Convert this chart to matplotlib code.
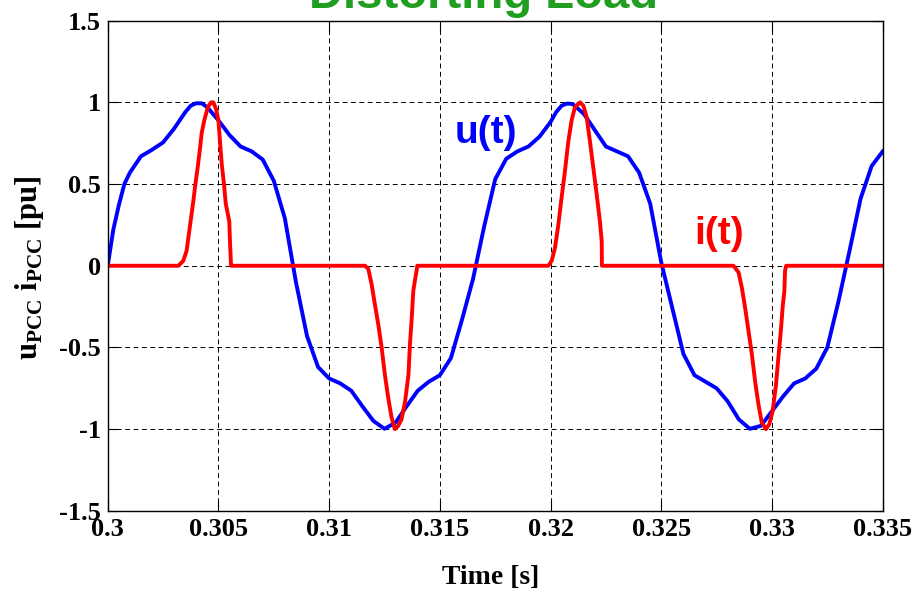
import matplotlib
matplotlib.use("Agg")
import matplotlib.pyplot as plt

plt.rcParams['mathtext.fontset'] = 'custom'
plt.rcParams['mathtext.rm'] = 'Liberation Serif'
plt.rcParams['mathtext.bf'] = 'Liberation Serif:bold'

# u(t) (mostly every 0.5 ms)
u_t = [0.3000, 0.30025, 0.3005, 0.30075, 0.3010, 0.3015, 0.3020, 0.3025, 0.3030, 0.3035,
       0.30375, 0.3040, 0.30425, 0.3045,
       0.3050, 0.3055, 0.3060, 0.3065, 0.3070, 0.3075, 0.3080, 0.3085, 0.3090, 0.3095,
       0.3100, 0.3105, 0.3110, 0.3115, 0.3120, 0.3125, 0.3130, 0.3135, 0.3140, 0.3145,
       0.3150, 0.3155, 0.3160, 0.3165, 0.3170, 0.3175, 0.3180, 0.3185, 0.3190, 0.3195,
       0.3200, 0.32025, 0.3205, 0.32075, 0.3210, 0.3215, 0.3220, 0.3225, 0.3230, 0.3235,
       0.3240, 0.3245,
       0.3250, 0.3255, 0.3260, 0.3265, 0.3270, 0.3275, 0.3280, 0.3285, 0.3290, 0.3295,
       0.3300, 0.3305, 0.3310, 0.3315, 0.3320, 0.3325, 0.3330, 0.3335, 0.3340, 0.3345,
       0.3350]
u_v = [0.00, 0.22, 0.37, 0.50, 0.57, 0.67, 0.71, 0.755, 0.84, 0.94,
       0.98, 0.995, 0.994, 0.97,
       0.89, 0.80, 0.73, 0.70, 0.65, 0.52, 0.29, -0.10, -0.43, -0.62,
       -0.69, -0.72, -0.765, -0.86, -0.95, -0.998, -0.96, -0.86, -0.765, -0.71,
       -0.67, -0.565, -0.33, -0.08, 0.24, 0.53, 0.655, 0.70, 0.73, 0.79,
       0.88, 0.94, 0.98, 0.993, 0.99, 0.93, 0.83, 0.73, 0.70, 0.67,
       0.57, 0.38,
       0.02, -0.26, -0.54, -0.67, -0.71, -0.75, -0.83, -0.94, -0.998, -0.98,
       -0.89, -0.80, -0.72, -0.69, -0.63, -0.50, -0.22, 0.09, 0.41, 0.61,
       0.70]

# i(t): current pulses
i_t = [0.3000,
       0.30319, 0.30341, 0.30356, 0.30364, 0.30376, 0.30387, 0.30394, 0.30406, 0.30417,
       0.30424, 0.30436, 0.30452, 0.30467, 0.30477, 0.30489, 0.30500, 0.30507, 0.30515,
       0.30525, 0.30533, 0.30542, 0.30549, 0.30552, 0.30557,
       0.31162, 0.31177, 0.31192, 0.31207, 0.31222, 0.31237, 0.31252, 0.31267, 0.31282,
       0.31297, 0.31312, 0.31327, 0.31343, 0.31358, 0.31365, 0.31373, 0.31380, 0.31388,
       0.31395, 0.31398,
       0.31990, 0.32005, 0.32020, 0.32035, 0.32050, 0.32065, 0.32080, 0.32095, 0.32110,
       0.32133, 0.32148, 0.32163, 0.32178, 0.32193, 0.32208, 0.32223, 0.32231, 0.32232,
       0.32826, 0.32849, 0.32864, 0.32879, 0.32894, 0.32909, 0.32924, 0.32939, 0.32954,
       0.32973, 0.32988, 0.33003, 0.33018, 0.33029, 0.33040, 0.33049, 0.33056, 0.33059,
       0.33064,
       0.3350]
i_v = [0.0,
       0.0, 0.03, 0.09, 0.17, 0.29, 0.40, 0.48, 0.60, 0.72,
       0.81, 0.89, 0.97, 1.0, 1.0, 0.96, 0.89, 0.76, 0.62,
       0.50, 0.38, 0.32, 0.27, 0.15, 0.0,
       0.0, -0.02, -0.115, -0.24, -0.36, -0.50, -0.67, -0.81, -0.93,
       -1.0, -0.98, -0.94, -0.83, -0.67, -0.48, -0.32, -0.155, -0.085,
       -0.03, 0.0,
       0.0, 0.03, 0.11, 0.25, 0.42, 0.58, 0.76, 0.89, 0.97,
       1.0, 0.98, 0.91, 0.76, 0.60, 0.44, 0.27, 0.15, 0.0,
       0.0, -0.04, -0.135, -0.26, -0.40, -0.54, -0.71, -0.85, -0.96,
       -1.0, -0.97, -0.89, -0.73, -0.56, -0.40, -0.24, -0.155, -0.03,
       0.0,
       0.0]

xticks = [0.3, 0.305, 0.31, 0.315, 0.32, 0.325, 0.33, 0.335]
xlabels = ['0.3', '0.305', '0.31', '0.315', '0.32', '0.325', '0.33', '0.335']
yticks = [-1.5, -1, -0.5, 0, 0.5, 1, 1.5]
ylabels = ['-1.5', '-1', '-0.5', '0', '0.5', '1', '1.5']

fig = plt.figure(figsize=(9.13, 5.95), dpi=100)
ax = fig.add_axes([0.118, 0.1415, 0.8488, 0.8237])

ax.plot(u_t, u_v, color='#0000ff', lw=2.8)
ax.plot(i_t, i_v, color='#ff0000', lw=2.8)

ax.set_xlim(0.3, 0.335)
ax.set_ylim(-1.5, 1.5)
ax.set_xticks(xticks)
ax.set_xticklabels(xlabels)
ax.set_yticks(yticks)
ax.set_yticklabels(ylabels)

tfont = dict(family='Liberation Serif', weight='bold', size=19)
for lab in ax.get_xticklabels() + ax.get_yticklabels():
    lab.set_fontproperties(matplotlib.font_manager.FontProperties(**tfont))

ax.tick_params(direction='in', length=7, width=0.8, top=True, right=True, pad=5)
ax.grid(True, color='black', lw=0.7, linestyle=(0, (5, 3.6)))
for s in ax.spines.values():
    s.set_linewidth(1.0)

ax.text(0.31709, 0.814, 'u(t)', color='#0000ff', fontsize=28, fontweight='bold',
        family='Liberation Sans', ha='center', va='center')
ax.text(0.32761, 0.194, 'i(t)', color='#ff0000', fontsize=28, fontweight='bold',
        family='Liberation Sans', ha='center', va='center')

# title sits partly above the figure edge, as in the original
fig.text(0.530, 0.9866, 'Distorting Load', color='#1f9e1f', fontsize=34,
         fontweight='bold', family='Liberation Sans', ha='center', va='baseline')
fig.text(491 / 913, 17 / 595, 'Time [s]', fontsize=20, fontweight='bold',
         family='Liberation Serif', ha='center', va='center')
fig.text(30 / 913, 327 / 595, r'u$_{\mathbf{PCC}}$ i$_{\mathbf{PCC}}$ [pu]',
         fontsize=22, fontweight='bold', family='Liberation Serif',
         rotation=90, ha='center', va='center')

fig.savefig('out.png', dpi=100)
